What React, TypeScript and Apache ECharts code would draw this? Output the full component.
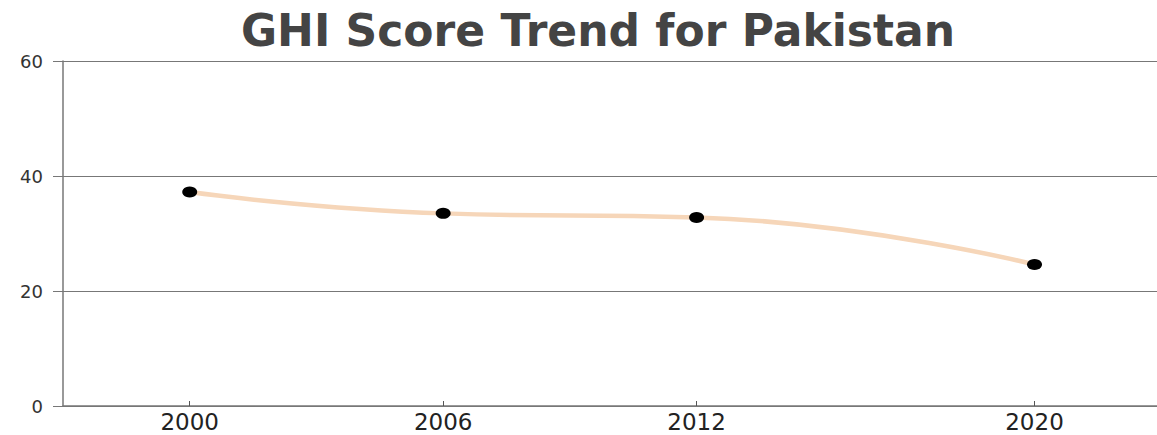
import React, { useEffect, useRef } from "react";
import * as echarts from "echarts";

const titleText = "GHI Score Trend for Pakistan";
const years = [2000, 2006, 2012, 2020];
const ghiScores = [37.2, 33.5, 32.8, 24.6];
const yTicks = [0, 20, 40, 60];

export default function App() {
  const ref = useRef<HTMLDivElement>(null);
  useEffect(() => {
    if (!ref.current) return;
    const chart = echarts.init(ref.current, null, { renderer: "svg" });
    chart.setOption({
      animation: false,
      backgroundColor: "#ffffff",
      title: {
        text: titleText,
        left: 593,
        top: 3,
        textAlign: "center",
        textStyle: {
          fontFamily: "DejaVu Sans",
          fontWeight: "bold",
          fontSize: 44,
          color: "#444444",
        },
      },
      grid: { left: 63, right: 0, top: 61, bottom: 29, containLabel: false },
      xAxis: {
        type: "value",
        min: 1997,
        max: 2022.9,
        axisLine: { show: true, lineStyle: { color: "#777777", width: 1.5 } },
        axisTick: {
          show: true,
          inside: true,
          length: 5,
          customValues: years,
          lineStyle: { color: "#555555" },
        },
        splitLine: { show: false },
        axisLabel: {
          customValues: years,
          margin: 4,
          fontFamily: "DejaVu Sans",
          fontSize: 23,
          color: "#222222",
          formatter: (v: number) => String(v),
        },
      },
      yAxis: {
        type: "value",
        min: yTicks[0],
        max: yTicks[yTicks.length - 1],
        interval: 20,
        axisLine: { show: true, lineStyle: { color: "#777777", width: 1.5 } },
        axisTick: { show: true, length: 10, lineStyle: { color: "#777777" } },
        splitLine: { show: true, lineStyle: { color: "#777777", width: 1 } },
        axisLabel: {
          margin: 20,
          fontFamily: "DejaVu Sans",
          fontSize: 18,
          color: "#333333",
        },
      },
      series: [
        {
          type: "line",
          data: years.map((y, i) => [y, ghiScores[i]]),
          smooth: 0.5,
          symbol: "circle",
          symbolSize: [15, 11],
          itemStyle: { color: "#000000" },
          lineStyle: { color: "#f6d6b9", width: 4.5 },
          z: 3,
        },
      ],
    });
    return () => chart.dispose();
  }, []);
  return (
    <div
      ref={ref}
      style={{ position: "absolute", left: 0, top: 0, width: 1157, height: 435 }}
    />
  );
}
